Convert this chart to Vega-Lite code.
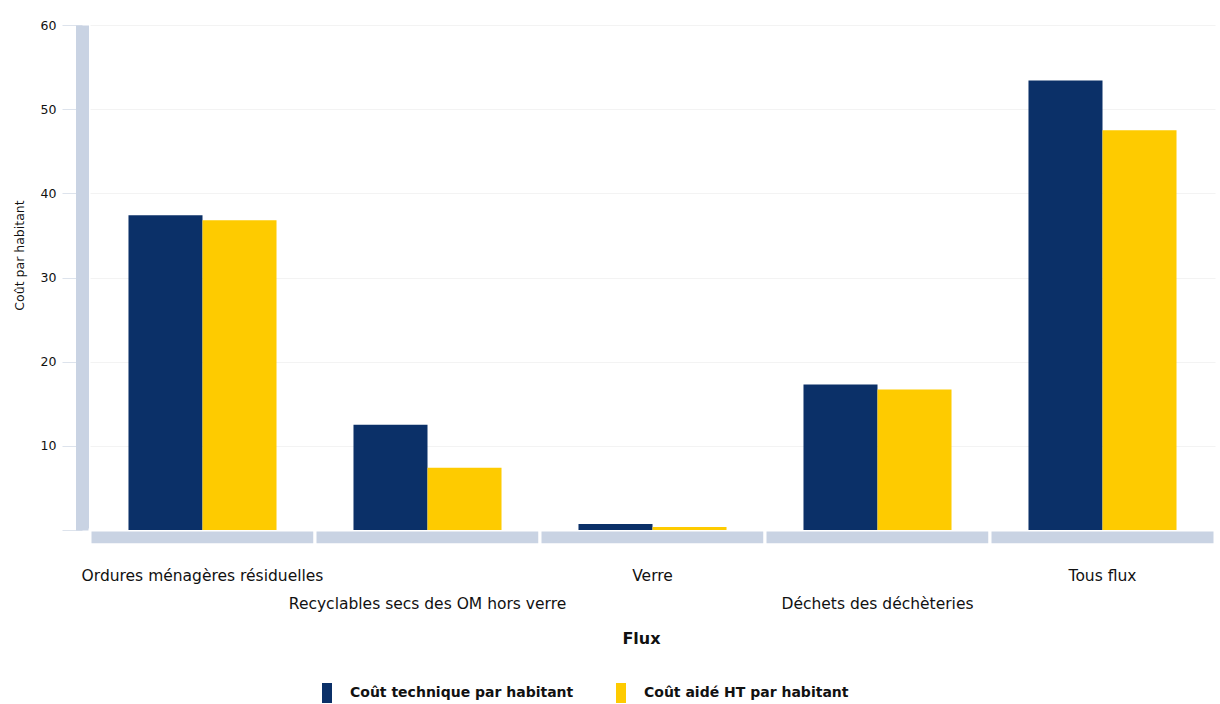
{
  "$schema": "https://vega.github.io/schema/vega-lite/v6.json",
  "width": 1125,
  "height": 505,
  "autosize": {"type": "none"},
  "padding": {"left": 90, "top": 25, "right": 5, "bottom": 174},
  "background": "white",
  "config": {
    "font": "DejaVu Sans",
    "view": {"stroke": null}
  },
  "data": {
    "values": [
      {"flux": "Ordures ménagères résiduelles", "serie": "Coût technique par habitant", "valeur": 37.4},
      {"flux": "Ordures ménagères résiduelles", "serie": "Coût aidé HT par habitant", "valeur": 36.8},
      {"flux": "Recyclables secs des OM hors verre", "serie": "Coût technique par habitant", "valeur": 12.5},
      {"flux": "Recyclables secs des OM hors verre", "serie": "Coût aidé HT par habitant", "valeur": 7.4},
      {"flux": "Verre", "serie": "Coût technique par habitant", "valeur": 0.7},
      {"flux": "Verre", "serie": "Coût aidé HT par habitant", "valeur": 0.35},
      {"flux": "Déchets des déchèteries", "serie": "Coût technique par habitant", "valeur": 17.3},
      {"flux": "Déchets des déchèteries", "serie": "Coût aidé HT par habitant", "valeur": 16.7},
      {"flux": "Tous flux", "serie": "Coût technique par habitant", "valeur": 53.4},
      {"flux": "Tous flux", "serie": "Coût aidé HT par habitant", "valeur": 47.5}
    ]
  },
  "encoding": {
    "x": {
      "field": "flux",
      "type": "nominal",
      "sort": null,
      "scale": {"paddingInner": 0, "paddingOuter": 0},
      "axis": {
        "title": "Flux",
        "titleFontSize": 16,
        "titleFontWeight": "bold",
        "titleColor": "#111",
        "titleX": 551,
        "titleY": 108,
        "titleBaseline": "middle",
        "labelAngle": 0,
        "labelFontSize": 15.5,
        "labelColor": "#111",
        "labelLimit": 0,
        "labelPadding": 38,
        "labelLineHeight": 28,
        "labelBaseline": "top",
        "labelExpr": "indexof(['Recyclables secs des OM hors verre', 'Déchets des déchèteries'], datum.value) >= 0 ? ['', datum.label] : datum.label",
        "domain": false,
        "ticks": false,
        "grid": false
      }
    }
  },
  "layer": [
    {
      "transform": [{"filter": "datum.serie == 'Coût technique par habitant'"}],
      "mark": {"type": "bar", "color": "#c9d3e3", "stroke": "white", "strokeWidth": 3, "clip": false},
      "encoding": {
        "y": {"datum": 0, "type": "quantitative"},
        "y2": {"datum": -1.75}
      }
    },
    {
      "mark": {"type": "bar"},
      "encoding": {
        "xOffset": {
          "field": "serie",
          "type": "nominal",
          "sort": ["Coût technique par habitant", "Coût aidé HT par habitant"],
          "scale": {"paddingInner": 0, "paddingOuter": 0.52}
        },
        "y": {
          "field": "valeur",
          "type": "quantitative",
          "scale": {"domain": [0, 60], "nice": false},
          "axis": {
            "title": "Coût par habitant",
            "titleFontSize": 12.5,
            "titleFontWeight": "normal",
            "titleColor": "#111",
            "titleY": 230,
            "titlePadding": 14,
            "values": [0, 10, 20, 30, 40, 50, 60],
            "labelExpr": "datum.value == 0 ? '' : datum.label",
            "labelFontSize": 12.5,
            "labelColor": "#111",
            "labelPadding": 6,
            "offset": 8,
            "domainColor": "#c9d3e3",
            "domainWidth": 13,
            "tickColor": "#dde3ec",
            "tickSize": 20,
            "tickWidth": 1,
            "grid": true,
            "gridColor": "#f3f3f3",
            "gridWidth": 1
          }
        },
        "color": {
          "field": "serie",
          "type": "nominal",
          "sort": ["Coût technique par habitant", "Coût aidé HT par habitant"],
          "scale": {"range": ["#0b3068", "#fecb00"]},
          "legend": {
            "title": null,
            "orient": "none",
            "direction": "horizontal",
            "legendX": 227,
            "legendY": 658,
            "symbolType": "M-0.5,-1L0.5,-1L0.5,1L-0.5,1Z",
            "symbolSize": 400,
            "symbolStrokeWidth": 0,
            "labelFontSize": 14,
            "labelFontWeight": "bold",
            "labelColor": "#111",
            "labelLimit": 0,
            "labelOffset": 13,
            "columnPadding": 37
          }
        }
      }
    }
  ]
}
